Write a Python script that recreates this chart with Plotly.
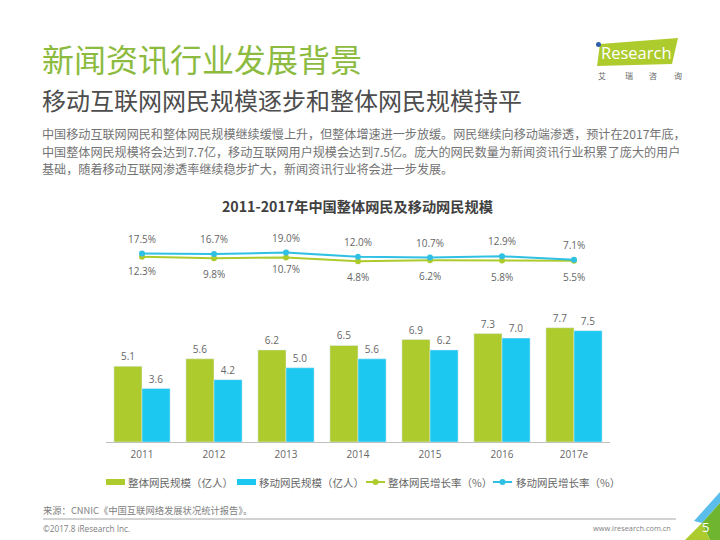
import plotly.graph_objects as go

categories = ["2011", "2012", "2013", "2014", "2015", "2016", "2017e"]
total_users = [5.1, 5.6, 6.2, 6.5, 6.9, 7.3, 7.7]
mobile_users = [3.6, 4.2, 5.0, 5.6, 6.2, 7.0, 7.5]
total_growth = [12.3, 9.8, 10.7, 4.8, 6.2, 5.8, 5.5]
mobile_growth = [17.5, 16.7, 19.0, 12.0, 10.7, 12.9, 7.1]
legend_names = ["整体网民规模（亿人）", "移动网民规模（亿人）", "整体网民增长率（%）", "移动网民增长率（%）"]

total_label_shift = [-14, -16, -11, -16, -16, -16, -16]
mobile_label_shift = [15, 15, 15, 15, 15, 15, 15]

GREEN = "#AECB2E"
BLUE = "#1CC7F0"
LINE_BLUE = "#2FC0E4"
TEXT = "#666666"
CJK = "Noto Sans CJK SC"
W, H = 720, 540


def px(x):
    return x / W


def py(y):
    return 1 - y / H


fig = go.Figure()
fig.add_bar(x=categories, y=total_users, name=legend_names[0], marker_color=GREEN,
            text=[f"{v:.1f}" for v in total_users], textposition="outside", cliponaxis=False,
            textfont=dict(size=10, color=TEXT, family="Open Sans"))
fig.add_bar(x=categories, y=mobile_users, name=legend_names[1], marker_color=BLUE,
            text=[f"{v:.1f}" for v in mobile_users], textposition="outside", cliponaxis=False,
            textfont=dict(size=10, color=TEXT, family="Open Sans"))
fig.add_scatter(x=categories, y=total_growth, name=legend_names[2], yaxis="y2", mode="lines+markers",
                line=dict(color=GREEN, width=2), marker=dict(color=GREEN, size=6))
fig.add_scatter(x=categories, y=mobile_growth, name=legend_names[3], yaxis="y2", mode="lines+markers",
                line=dict(color=LINE_BLUE, width=2), marker=dict(color=LINE_BLUE, size=6))

ann = []
for i, (v, s) in enumerate(zip(total_growth, total_label_shift)):
    ann.append(dict(x=i, y=v, xref="x", yref="y2", text=f"{v:.1f}%", showarrow=False, yshift=s,
                    font=dict(size=10, color=TEXT, family="Open Sans")))
for i, (v, s) in enumerate(zip(mobile_growth, mobile_label_shift)):
    ann.append(dict(x=i, y=v, xref="x", yref="y2", text=f"{v:.1f}%", showarrow=False, yshift=s,
                    font=dict(size=10, color=TEXT, family="Open Sans")))


def label(x, y, text, size, color=TEXT, anchor="left", family=CJK):
    ann.append(dict(x=px(x), y=py(y), xref="paper", yref="paper", text=text, showarrow=False,
                    xanchor=anchor, yanchor="middle", align="left", borderpad=0,
                    font=dict(size=size, color=color, family=family)))


label(41, 58, "新闻资讯行业发展背景", 32, "#8CBB3F")
label(41, 99, "移动互联网网民规模逐步和整体网民规模持平", 24, "#4D4D4D")
label(41, 134, "中国移动互联网网民和整体网民规模继续缓慢上升，但整体增速进一步放缓。网民继续向移动端渗透，预计在2017年底，", 12.1, "#737373")
label(41, 151, "中国整体网民规模将会达到7.7亿，移动互联网用户规模会达到7.5亿。庞大的网民数量为新闻资讯行业积累了庞大的用户", 12.1, "#737373")
label(41, 169, "基础，随着移动互联网渗透率继续稳步扩大，新闻资讯行业将会进一步发展。", 12.1, "#737373")
ann.append(dict(x=px(357), y=py(206), xref="paper", yref="paper", showarrow=False,
                text="<b>2011-2017年中国整体网民及移动网民规模</b>",
                font=dict(size=14.2, color="#404040", family=CJK)))
label(42, 510, "来源：CNNIC《中国互联网络发展状况统计报告》。", 9.3, "#808080")
label(42, 528, "©2017.8 iResearch Inc.", 8.2, "#808080", family="Open Sans")
label(672, 528, "www.iresearch.com.cn", 7.4, "#808080", anchor="right", family="Open Sans")
label(705, 527, "5", 13, "white", anchor="center", family="Open Sans")
label(600, 52, "Research", 16.5, "white", family="Open Sans")
label(597, 76, "艾", 8, "#666666")
label(624, 76, "瑞", 8, "#666666")
label(648, 76, "咨", 8, "#666666")
label(673, 76, "询", 8, "#666666")
for name, x in zip(legend_names, [127, 258, 387, 515]):
    label(x, 482, name, 10.5, TEXT)


def poly(points, color):
    path = "M" + "L".join(f"{x/W},{1-y/H}" for x, y in points) + "Z"
    return dict(type="path", xref="paper", yref="paper", path=path, fillcolor=color, line_width=0, layer="below")


def rect(x0, x1, y0, y1, color):
    return dict(type="rect", xref="paper", yref="paper", x0=px(x0), x1=px(x1), y0=py(y1), y1=py(y0),
                fillcolor=color, line_width=0)


def key_line(x0, x1, y, color):
    return [dict(type="line", xref="paper", yref="paper", x0=px(x0), x1=px(x1), y0=py(y), y1=py(y),
                 line=dict(color=color, width=2)),
            dict(type="circle", xref="paper", yref="paper", x0=px((x0 + x1) / 2 - 3), x1=px((x0 + x1) / 2 + 3),
                 y0=py(y + 3), y1=py(y - 3), fillcolor=color, line_width=0)]


shapes = [
    dict(type="line", xref="paper", yref="paper", x0=px(43), x1=px(676), y0=py(519), y1=py(519),
         line=dict(color="#A6A6A6", width=1)),
    poly([(720, 492), (720, 503), (702, 523), (694, 521)], "#5BBDEB"),
    poly([(720, 503), (720, 540), (710, 540), (702, 523)], "#6FB52F"),
    poly([(685, 540), (702, 523), (710, 540)], "#AECB2E"),
    poly([(600, 44), (678, 38), (672, 64), (597, 66)], "#AECB2E"),
    dict(type="circle", xref="paper", yref="paper", x0=px(596), x1=px(601), y0=py(47), y1=py(42),
         fillcolor="#2F5FA8", line_width=0),
    rect(106, 125, 479, 485, GREEN),
    rect(237, 256, 479, 485, BLUE),
] + key_line(366, 385, 482, GREEN) + key_line(493, 512, 482, LINE_BLUE)

fig.update_layout(
    width=W, height=H, margin=dict(l=0, r=0, t=0, b=0), paper_bgcolor="white", plot_bgcolor="white",
    barmode="group", bargap=0.22, bargroupgap=0, annotations=ann, shapes=shapes, showlegend=False,
    font=dict(family=CJK, color=TEXT, size=10),
    xaxis=dict(domain=[px(106), px(610)], anchor="y", type="category", range=[-0.5, 6.5], showgrid=False,
               showline=True, linecolor="#BFBFBF", linewidth=1, ticks="",
               tickfont=dict(size=10, color=TEXT, family="Open Sans"), ticklabelstandoff=3),
    yaxis=dict(domain=[py(442), py(300)], range=[0, 142 / 14.85], visible=False),
    yaxis2=dict(domain=[py(285), py(240)], range=[-34.9, 40], visible=False, anchor="x"),
)
fig.write_html("out.html", config={"displayModeBar": False}, post_script="document.body.style.margin='0';")
